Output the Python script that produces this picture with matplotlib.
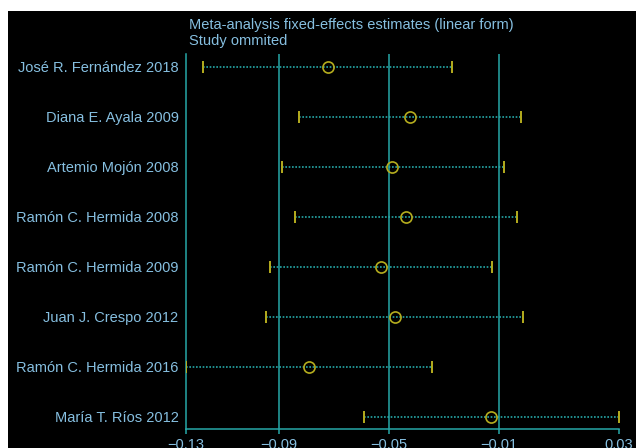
import matplotlib
matplotlib.use("Agg")
import matplotlib.pyplot as plt
from matplotlib.patches import Rectangle

# study omitted, estimate and 95% CI when that study is left out
studies = ["José R. Fernández 2018", "Diana E. Ayala 2009", "Artemio Mojón 2008",
           "Ramón C. Hermida 2008", "Ramón C. Hermida 2009", "Juan J. Crespo 2012",
           "Ramón C. Hermida 2016", "María T. Ríos 2012"]
est = [-0.0764, -0.0465, -0.0528, -0.0479, -0.0571, -0.0520, -0.0832, -0.0169]
lower = [-0.1216, -0.0869, -0.0931, -0.0882, -0.0974, -0.0988, -0.1280, -0.0631]
upper = [-0.0312, -0.0060, -0.0123, -0.0076, -0.0168, -0.0054, -0.0384, 0.0295]

# overall fixed-effects estimate and CI
overall_est = -0.0540
overall_lo = -0.0940
overall_hi = -0.0140

title1 = "Meta-analysis fixed-effects estimates (linear form)"
title2 = "Study ommited"

TEXT = "#86bfe0"
TEAL = "#26a8a8"
YEL = "#b5ad1e"
FONT = "Liberation Sans"

fig = plt.figure(figsize=(6.36, 4.48), dpi=100, facecolor="white")
fig.patches.append(Rectangle((8 / 636, 0), 1, 1 - 11 / 448, transform=fig.transFigure,
                             facecolor="black", edgecolor="none", zorder=-5))

ax = fig.add_axes([185.5 / 636, 1 - 429.3 / 448, (619 - 185.5) / 636, (429.3 - 54) / 448])
ax.set_facecolor("none")

n = len(studies)
ys = [n - i for i in range(n)]

for v in (overall_lo, overall_est, overall_hi):
    ax.axvline(v, color=TEAL, lw=1.1, zorder=1)

for y, lo, hi, e in zip(ys, lower, upper, est):
    ax.plot([lo, hi], [y, y], color=TEAL, lw=1.2, ls=(0, (1, 1)), zorder=2)
    ax.plot([lo, hi], [y, y], ls="none", marker="|", ms=8, mew=1.4, color=YEL, zorder=3)
    ax.plot([e], [y], ls="none", marker="o", ms=8, mew=1.2, mfc="none", mec=YEL, zorder=4)

xmin, xmax = min(lower), max(upper)
ax.set_xlim(xmin, xmax)
ax.set_ylim(0.75, n + 0.25)

ticks = [xmin, overall_lo, overall_est, overall_hi, xmax]
ax.set_xticks(ticks)
ax.set_xticklabels([f"{t:.2f}".replace("-", "\u2212") for t in ticks])
ax.set_yticks(ys)
ax.set_yticklabels(studies)

for s in ("top", "right"):
    ax.spines[s].set_visible(False)
for s in ("left", "bottom"):
    ax.spines[s].set_color(TEAL)
    ax.spines[s].set_linewidth(1.1)

ax.tick_params(axis="x", colors=TEAL, length=3.5, width=1.1, pad=2.5, labelcolor=TEXT, labelsize=10.5)
ax.tick_params(axis="y", length=0, pad=5, labelcolor=TEXT, labelsize=10.5)
for lab in ax.get_xticklabels() + ax.get_yticklabels():
    lab.set_fontfamily(FONT)

fig.text(189 / 636, 1 - 29.3 / 448, title1, color=TEXT, fontsize=10.5, family=FONT, va="baseline")
fig.text(189 / 636, 1 - 45 / 448, title2, color=TEXT, fontsize=10.5, family=FONT, va="baseline")

fig.savefig("out.png", dpi=100, facecolor="white")
